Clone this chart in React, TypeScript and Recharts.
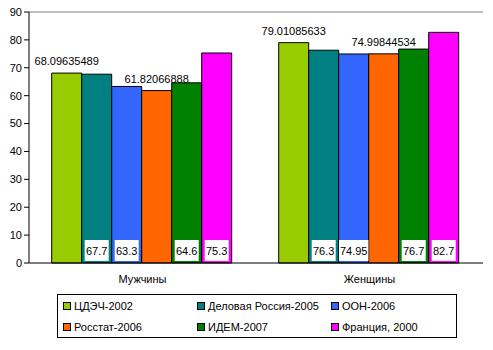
import React from 'react';
import { BarChart, Bar, XAxis, YAxis, LabelList, Legend, ReferenceLine } from 'recharts';

const categories = ['Мужчины', 'Женщины'];
const seriesNames = ['ЦДЭЧ-2002', 'Деловая Россия-2005', 'ООН-2006', 'Росстат-2006', 'ИДЕМ-2007', 'Франция, 2000'];
const seriesColors = ['#99CC00', '#008080', '#3366FF', '#FF6600', '#008000', '#FF00FF'];
const cdech = [68.09635489, 79.01085633];
const delRossiya = [67.7, 76.3];
const oon = [63.3, 74.95];
const rosstat = [61.82066888, 74.99844534];
const idem = [64.6, 76.7];
const france = [75.3, 82.7];
const yTicks = [0, 10, 20, 30, 40, 50, 60, 70, 80, 90];
// label style per series: top = value above the bar, box = white box at bar foot
const labelKinds = ['top', 'box', 'box', 'top', 'box', 'box'];

const allValues = [cdech, delRossiya, oon, rosstat, idem, france];
const data = categories.map((c, i) => {
  const row: any = { name: c, pos: i };
  allValues.forEach((vals, s) => {
    row['s' + s] = vals[i];
  });
  return row;
});

const font = '"Liberation Sans", Arial, sans-serif';

const BoxLabel = (props: any) => {
  const { x, y, width, height, value } = props;
  const text = String(value);
  const w = text.length * 5.5 + 2;
  const cx = x + width / 2;
  const bottom = y + height;
  return (
    <g>
      <rect x={cx - w / 2} y={bottom - 23} width={w} height={21} fill="#fff" />
      <text x={cx} y={bottom - 8} textAnchor="middle" fontSize={11} fontFamily={font} fill="#000">
        {text}
      </text>
    </g>
  );
};

const LegendBox = () => (
  <div
    style={{
      width: 398,
      height: 42,
      border: '1px solid #000',
      fontFamily: font,
      fontSize: 11,
      position: 'relative',
      background: '#fff',
    }}
  >
    {seriesNames.map((n, i) => {
      const col = i % 3;
      const row = Math.floor(i / 3);
      return (
        <div
          key={n}
          style={{
            position: 'absolute',
            left: 5 + col * 134,
            top: 5 + row * 21,
            display: 'flex',
            alignItems: 'center',
            whiteSpace: 'nowrap',
          }}
        >
          <span
            style={{
              display: 'inline-block',
              width: 6,
              height: 6,
              border: '1px solid #000',
              background: seriesColors[i],
              marginRight: 3,
            }}
          />
          <span>{n}</span>
        </div>
      );
    })}
  </div>
);

export default function App() {
  return (
    <div style={{ position: 'absolute', left: 0, top: 0 }}>
      <BarChart
        width={493}
        height={350}
        data={data}
        margin={{ top: 12, right: 10, bottom: 18, left: 0 }}
        barCategoryGap="10%"
        barGap={0}
      >
        <XAxis
          xAxisId="b"
          dataKey="pos"
          type="number"
          domain={[-0.5, 1.5]}
          ticks={[-0.5, 0.5, 1.5]}
          tick={false}
          height={0}
          axisLine={false}
          tickLine={{ stroke: '#000' }}
          tickSize={4}
        />
        <XAxis
          dataKey="name"
          height={25}
          axisLine={{ stroke: '#000' }}
          tickLine={false}
          tickMargin={6}
          tick={{ fontSize: 11, fontFamily: font, fill: '#000' }}
        />
        <YAxis
          domain={[0, 90]}
          ticks={yTicks}
          width={29}
          axisLine={{ stroke: '#000' }}
          tickLine={{ stroke: '#000' }}
          tickSize={5}
          interval={0}
          tick={{ fontSize: 11, fontFamily: font, fill: '#000' }}
        />
        <YAxis
          yAxisId="r"
          orientation="right"
          width={0}
          tick={false}
          tickLine={false}
          axisLine={{ stroke: '#808080' }}
        />
        <ReferenceLine y={90} stroke="#808080" />
        <Legend
          verticalAlign="bottom"
          content={() => <LegendBox />}
          wrapperStyle={{ position: 'absolute', left: 57, top: 294, width: 400, height: 44 }}
        />
        {seriesNames.map((n, i) => (
          <Bar
            key={n}
            dataKey={'s' + i}
            name={n}
            fill={seriesColors[i]}
            stroke="#000"
            strokeWidth={1}
            isAnimationActive={false}
          >
            {labelKinds[i] === 'top' ? (
              <LabelList
                dataKey={'s' + i}
                position="top"
                offset={8}
                style={{ fontSize: 11, fontFamily: font, fill: '#000' }}
              />
            ) : (
              <LabelList dataKey={'s' + i} content={<BoxLabel />} />
            )}
          </Bar>
        ))}
      </BarChart>
    </div>
  );
}
